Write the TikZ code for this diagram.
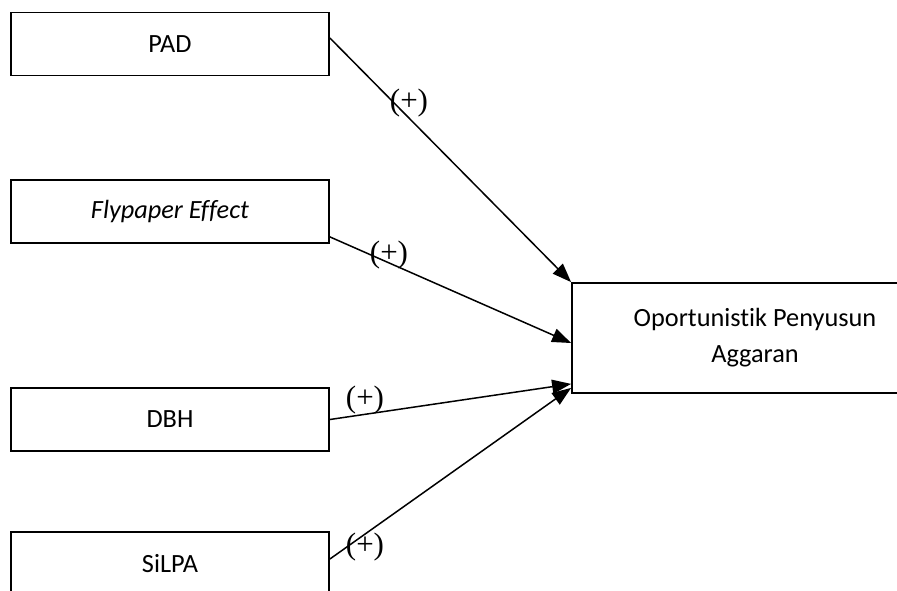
\documentclass[tikz,border=0pt]{standalone}
\usepackage{fontspec}
\setmainfont{Carlito}[Ligatures=NoCommon]
\newfontfamily\signfont{Liberation Serif}
\usetikzlibrary{positioning, arrows.meta, calc}

\begin{document}
\begin{tikzpicture}[x=1pt, y=-1pt, font=\fontsize{26.3}{36}\selectfont,
  var/.style={draw, line width=1.8pt, minimum width=318pt, minimum height=63pt, inner sep=0pt},
  arr/.style={-{Triangle[length=19pt, width=14pt]}, line width=1.5pt},
  sgn/.style={font=\signfont\fontsize{31}{32}\selectfont, inner sep=0pt}
]
  \useasboundingbox (0,0) rectangle (897,590);
  \clip (0,0) rectangle (897,590);
  \node[var] (pad) at (170,44) {PAD};
  \node[var] (fly) at (170,211.5) {\itshape Flypaper Effect};
  \node[var] (dbh) at (170,419.5) {DBH};
  \node[var] (silpa) at (170,563.5) {SiLPA};
  \node[var, minimum width=366pt, minimum height=110pt, align=center] (oa) at (755,338) {Oportunistik Penyusun\\Aggaran};
  \foreach \a/\sa/\b/\sb in {pad.east/6/oa.north west/0,
                             fly.south east/7/oa.west/-5,
                             dbh.east/0/oa.south west/10,
                             silpa.east/4.5/oa.south west/6}
    \draw[arr] ([yshift=\sa pt]\a) -- ([yshift=\sb pt]\b);
  \node[sgn] (s1) at (409,103) {(+)};
  \node[sgn] (s2) at (389,255) {(+)};
  \node[sgn] (s3) at (365,400) {(+)};
  \node[sgn] (s4) at (365,547) {(+)};
\end{tikzpicture}
\end{document}
